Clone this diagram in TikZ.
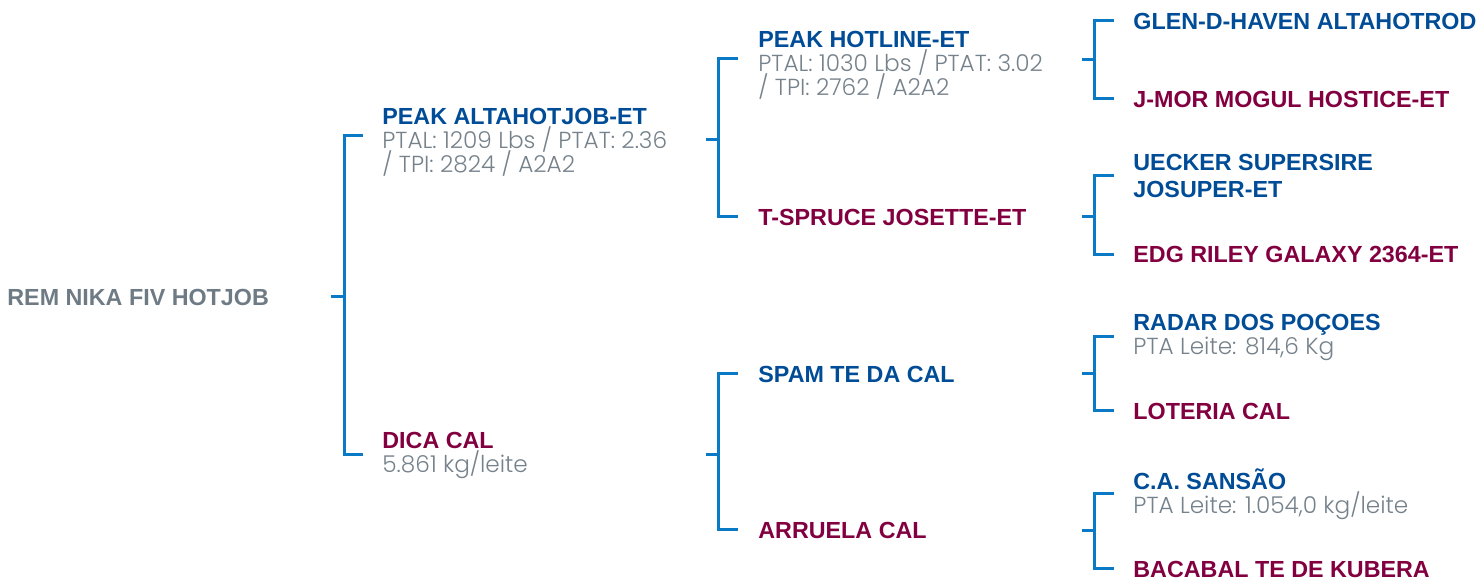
\documentclass[tikz,border=0pt]{standalone}
\usepackage{fontspec}
\setmainfont{Liberation Sans}
\newfontfamily\statsfont{Poppins Light}
\usetikzlibrary{calc}

\definecolor{sireblue}{HTML}{004C97}
\definecolor{damred}{HTML}{82003F}
\definecolor{statgray}{HTML}{76828B}
\definecolor{rootgray}{HTML}{6E7B85}
\definecolor{lineblue}{HTML}{0A7AC6}

\newcommand{\sire}[1]{{\bfseries\color{sireblue}#1}}
\newcommand{\dam}[1]{{\bfseries\color{damred}#1}}
\newcommand{\stats}[1]{{\statsfont\fontsize{11.6}{12}\selectfont\color{statgray}#1}}
\newcommand{\fixedlines}{\setlength{\lineskiplimit}{-20pt}\setlength{\lineskip}{0pt}}
\newcommand{\topgap}{\rule{0pt}{14.3pt}}

\tikzset{
  person/.style={anchor=west,inner sep=0pt,align=left,
    font=\fontsize{11.65}{12}\selectfont\fixedlines},
  bracket/.style={draw=lineblue,line width=1.5pt,line join=miter}
}

\begin{document}
\begin{tikzpicture}[x=0.5pt,y=-0.5pt]
  \useasboundingbox (0,0) rectangle (1477,581);

  % animals
  \node[person,text=rootgray] (root) at (7,297) {\bfseries REM NIKA FIV HOTJOB};

  \node[person] (pa) at (382,136) {\topgap\sire{PEAK ALTAHOTJOB-ET}\\\stats{PTAL: 1209 Lbs / PTAT: 2.36}\\\stats{/ TPI: 2824 / A2A2}};
  \node[person] (dc) at (382,455) {\dam{DICA CAL}\\\stats{5.861 kg/leite}};

  \node[person] (ph) at (758,59) {\topgap\sire{PEAK HOTLINE-ET}\\\stats{PTAL: 1030 Lbs / PTAT: 3.02}\\\stats{/ TPI: 2762 / A2A2}};
  \node[person] (ts) at (758,217) {\dam{T-SPRUCE JOSETTE-ET}};
  \node[person] (sp) at (758,374) {\sire{SPAM TE DA CAL}};
  \node[person] (ar) at (758,530) {\dam{ARRUELA CAL}};

  \node[person] (gh) at (1133,21) {\sire{GLEN-D-HAVEN ALTAHOTROD}};
  \node[person] (jm) at (1133,99) {\dam{J-MOR MOGUL HOSTICE-ET}};
  \node[person] (us) at (1133,176) {\sire{UECKER SUPERSIRE}\\[1.5pt]\sire{JOSUPER-ET}};
  \node[person] (eg) at (1133,255) {\dam{EDG RILEY GALAXY 2364-ET}};
  \node[person] (rd) at (1133,337) {\sire{RADAR DOS POÇOES}\\\stats{PTA Leite: 814,6 Kg}};
  \node[person] (lc) at (1133,411) {\dam{LOTERIA CAL}};
  \node[person] (cs) at (1133,494) {\sire{C.A. SANSÃO}\\\stats{PTA Leite: 1.054,0 kg/leite}};
  \node[person] (bk) at (1133,569) {\dam{BACABAL TE DE KUBERA}};

  % brackets
  \coordinate (j1) at (344,297);
  \coordinate (j2) at (718,140);
  \coordinate (j3) at (718,455);
  \coordinate (j4) at (1094,60);
  \coordinate (j5) at (1094,217);
  \coordinate (j6) at (1094,374);
  \coordinate (j7) at (1094,531);

  \draw[bracket] ($(pa.west)+(-19,0)$) -| (j1) |- ($(dc.west)+(-19,0)$);
  \draw[bracket] ($(ph.west)+(-20,0)$) -| (j2) |- ($(ts.west)+(-20,0)$);
  \draw[bracket] ($(sp.west)+(-20,0)$) -| (j3) |- ($(ar.west)+(-20,0)$);
  \draw[bracket] ($(gh.west)+(-19,0)$) -| (j4) |- ($(jm.west)+(-19,0)$);
  \draw[bracket] ($(us.west)+(-19,0)$) -| (j5) |- ($(eg.west)+(-19,0)$);
  \draw[bracket] ($(rd.west)+(-19,0)$) -| (j6) |- ($(lc.west)+(-19,0)$);
  \draw[bracket] ($(cs.west)+(-19,0)$) -| (j7) |- ($(bk.west)+(-19,0)$);

  \draw[bracket] (j1) -- ++(-13,0);
  \draw[bracket] (j2) -- ++(-12,0);
  \draw[bracket] (j3) -- ++(-12,0);
  \foreach \j in {j4,j5,j6,j7}
    \draw[bracket] (\j) -- ++(-12,0);
\end{tikzpicture}
\end{document}
